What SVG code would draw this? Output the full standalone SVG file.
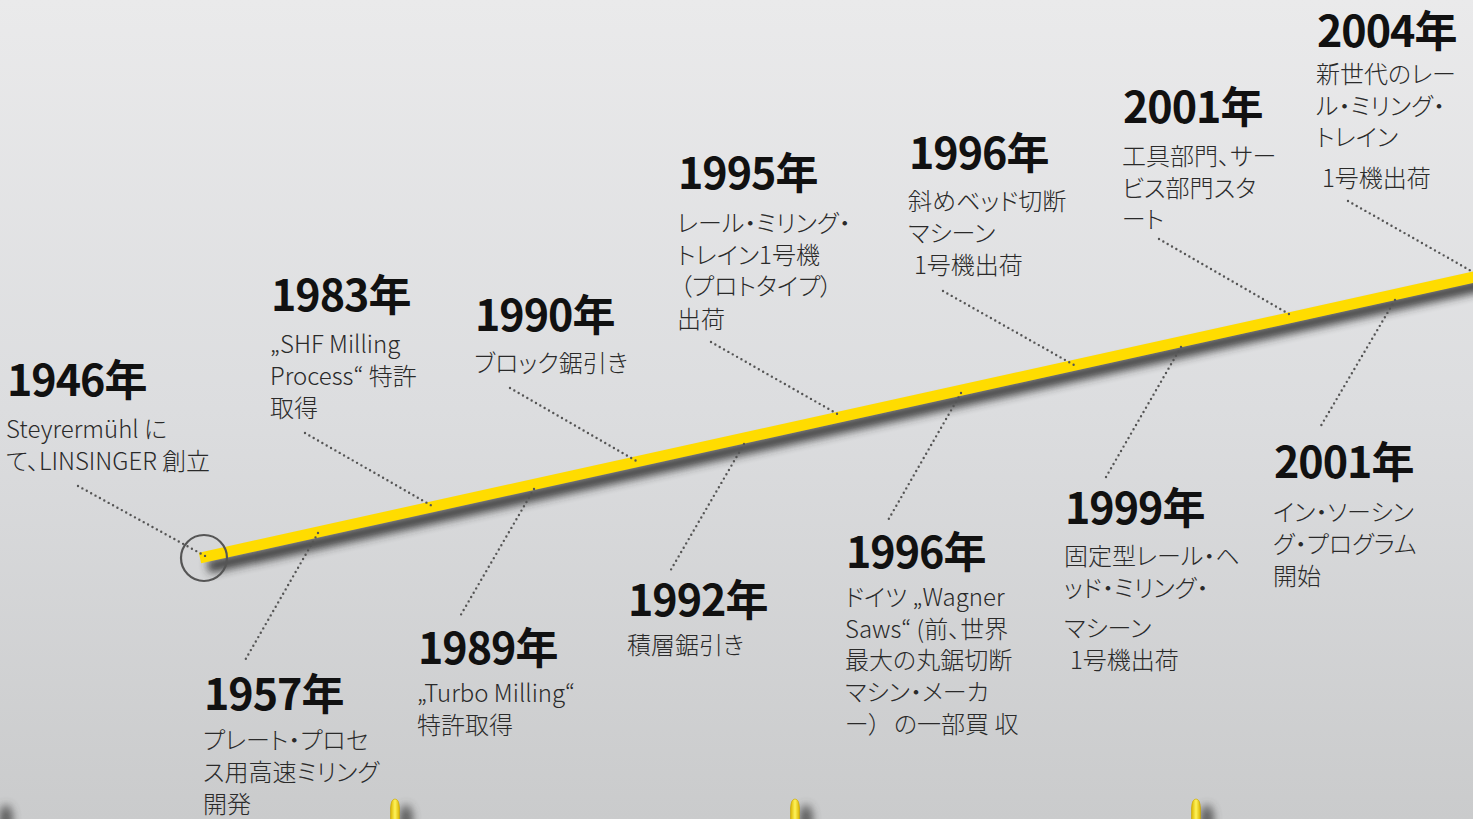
<svg xmlns="http://www.w3.org/2000/svg" width="1473" height="819" viewBox="0 0 1473 819">
<defs>
<linearGradient id="bg" x1="0" y1="0" x2="0" y2="1">
<stop offset="0" stop-color="#eaeaeb"/>
<stop offset="0.5" stop-color="#dcdddf"/>
<stop offset="1" stop-color="#cacbcc"/>
</linearGradient>
<linearGradient id="bul" x1="0" y1="0" x2="1" y2="0">
<stop offset="0" stop-color="#d9b400"/>
<stop offset="0.5" stop-color="#fff35a"/>
<stop offset="1" stop-color="#d9b400"/>
</linearGradient>
<filter id="blur" x="-20%" y="-50%" width="140%" height="200%">
<feGaussianBlur stdDeviation="4"/>
</filter>
<filter id="blur2" x="-100%" y="-100%" width="300%" height="300%">
<feGaussianBlur stdDeviation="4"/>
</filter>
<style>
.yr{font-family:"Noto Sans CJK JP","Noto Sans",sans-serif;font-weight:700;font-size:43px;letter-spacing:-1px;fill:#111}
.tx{font-family:"Noto Sans CJK JP","Noto Sans",sans-serif;font-weight:300;font-size:24px;fill:#2a2a2a;font-feature-settings:"palt"}
.ld{fill:none;stroke:#555;stroke-width:2.4;stroke-linecap:round;stroke-dasharray:0 5}
</style>
</defs>
<rect x="0" y="0" width="1473" height="819" fill="url(#bg)"/>

<g id="bullets">
<g transform="translate(-5,799)"><ellipse cx="11" cy="20" rx="7" ry="14" fill="#444" opacity="0.8" filter="url(#blur2)"/><path d="M-4.5,22 L-4.5,9 Q-4,0 0,0 Q4,0 4.5,9 L4.5,22 Z" fill="url(#bul)" stroke="#c9a600" stroke-width="0.6"/></g>
<g transform="translate(395,799)"><ellipse cx="11" cy="20" rx="7" ry="14" fill="#444" opacity="0.8" filter="url(#blur2)"/><path d="M-4.5,22 L-4.5,9 Q-4,0 0,0 Q4,0 4.5,9 L4.5,22 Z" fill="url(#bul)" stroke="#c9a600" stroke-width="0.6"/></g>
<g transform="translate(795,799)"><ellipse cx="11" cy="20" rx="7" ry="14" fill="#444" opacity="0.8" filter="url(#blur2)"/><path d="M-4.5,22 L-4.5,9 Q-4,0 0,0 Q4,0 4.5,9 L4.5,22 Z" fill="url(#bul)" stroke="#c9a600" stroke-width="0.6"/></g>
<g transform="translate(1196,799)"><ellipse cx="11" cy="20" rx="7" ry="14" fill="#444" opacity="0.8" filter="url(#blur2)"/><path d="M-4.5,22 L-4.5,9 Q-4,0 0,0 Q4,0 4.5,9 L4.5,22 Z" fill="url(#bul)" stroke="#c9a600" stroke-width="0.6"/></g>
</g>

<g id="timeline">
<line x1="208" y1="567" x2="1490" y2="283" stroke="#2a2a2a" stroke-width="13" opacity="0.85" filter="url(#blur)"/>
<line x1="200" y1="558" x2="1490" y2="273.5" stroke="#ffdc00" stroke-width="11"/>
<circle cx="204" cy="558" r="23" fill="none" stroke="#555" stroke-width="2.2"/>
</g>

<g id="connectors">
<line class="ld" x1="78" y1="486" x2="207" y2="557"/>
<line class="ld" x1="318" y1="533" x2="244" y2="662"/>
<line class="ld" x1="305" y1="433" x2="434" y2="507"/>
<line class="ld" x1="534" y1="489" x2="459" y2="618"/>
<line class="ld" x1="510" y1="388" x2="638" y2="462"/>
<line class="ld" x1="744" y1="444" x2="669" y2="573"/>
<line class="ld" x1="711" y1="342" x2="841" y2="416"/>
<line class="ld" x1="961" y1="393" x2="887" y2="522"/>
<line class="ld" x1="943" y1="291" x2="1074" y2="365"/>
<line class="ld" x1="1181" y1="347" x2="1106" y2="477"/>
<line class="ld" x1="1159" y1="239" x2="1289" y2="314"/>
<line class="ld" x1="1395" y1="300" x2="1319" y2="429"/>
<line class="ld" x1="1348" y1="201" x2="1473" y2="272"/>
</g>

<g id="n1946"><text class="yr" x="7" y="396">1946年</text><text class="tx"><tspan x="6" y="438">Steyrermühl に</tspan><tspan x="6" y="470">て、LINSINGER 創立</tspan></text></g>
<g id="n1957"><text class="yr" x="204" y="710">1957年</text><text class="tx"><tspan x="203" y="749">プレート・プロセ</tspan><tspan x="203" y="781">ス用高速ミリング</tspan><tspan x="203" y="813">開発</tspan></text></g>
<g id="n1983"><text class="yr" x="271" y="311">1983年</text><text class="tx"><tspan x="270" y="353">„SHF Milling</tspan><tspan x="270" y="385">Process“ 特許</tspan><tspan x="270" y="417">取得</tspan></text></g>
<g id="n1989"><text class="yr" x="418" y="664">1989年</text><text class="tx"><tspan x="417" y="702">„Turbo Milling“</tspan><tspan x="417" y="734">特許取得</tspan></text></g>
<g id="n1990"><text class="yr" x="475" y="331">1990年</text><text class="tx" x="474" y="372">ブロック鋸引き</text></g>
<g id="n1992"><text class="yr" x="628" y="616">1992年</text><text class="tx" x="627" y="654">積層鋸引き</text></g>
<g id="n1995"><text class="yr" x="678" y="189">1995年</text><text class="tx"><tspan x="677" y="232">レール・ミリング・</tspan><tspan x="677" y="264">トレイン1号機</tspan><tspan x="680" y="295">（プロトタイプ）</tspan><tspan x="677" y="328">出荷</tspan></text></g>
<g id="n1996a"><text class="yr" x="909" y="169">1996年</text><text class="tx"><tspan x="908" y="210">斜めベッド切断</tspan><tspan x="908" y="242">マシーン</tspan><tspan x="914" y="274">1号機出荷</tspan></text></g>
<g id="n1996b"><text class="yr" x="846" y="568">1996年</text><text class="tx"><tspan x="845" y="606">ドイツ „Wagner</tspan><tspan x="845" y="638">Saws“ (前、世界</tspan><tspan x="845" y="669">最大の丸鋸切断</tspan><tspan x="845" y="701">マシン・メーカ</tspan><tspan x="845" y="733">ー） </tspan><tspan dx="8">の一部買 収</tspan></text></g>
<g id="n1999"><text class="yr" x="1065" y="524">1999年</text><text class="tx"><tspan x="1064" y="565">固定型レール・ヘ</tspan><tspan x="1064" y="597">ッド・ミリング・</tspan><tspan x="1064" y="637">マシーン</tspan><tspan x="1070" y="669">1号機出荷</tspan></text></g>
<g id="n2001a"><text class="yr" x="1123" y="123">2001年</text><text class="tx"><tspan x="1122" y="165">工具部門、サー</tspan><tspan x="1122" y="197">ビス部門スタ</tspan><tspan x="1122" y="228">ート</tspan></text></g>
<g id="n2001b"><text class="yr" x="1274" y="478">2001年</text><text class="tx"><tspan x="1273" y="521">イン・ソーシン</tspan><tspan x="1273" y="553">グ・プログラム</tspan><tspan x="1273" y="585">開始</tspan></text></g>
<g id="n2004"><text class="yr" x="1317" y="47">2004年</text><text class="tx"><tspan x="1316" y="83">新世代のレー</tspan><tspan x="1316" y="115">ル・ミリング・</tspan><tspan x="1316" y="146">トレイン</tspan><tspan x="1322" y="187">1号機出荷</tspan></text></g>
</svg>
